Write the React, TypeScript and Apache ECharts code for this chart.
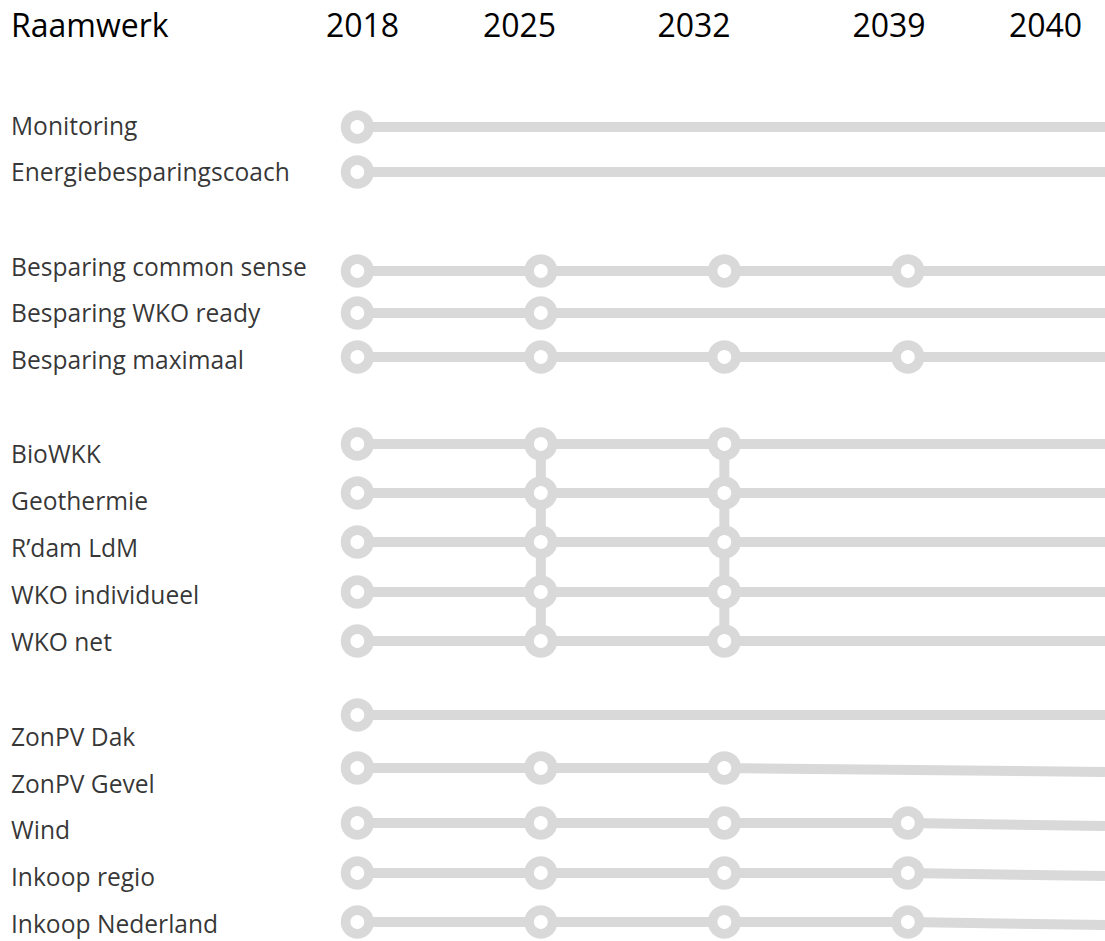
import React, { useEffect, useRef } from "react";
import * as echarts from "echarts";

// ---- data ----
const rowLabels = [
  "Monitoring",
  "Energiebesparingscoach",
  "Besparing common sense",
  "Besparing WKO ready",
  "Besparing maximaal",
  "BioWKK",
  "Geothermie",
  "R\u2019dam LdM",
  "WKO individueel",
  "WKO net",
  "ZonPV Dak",
  "ZonPV Gevel",
  "Wind",
  "Inkoop regio",
  "Inkoop Nederland",
];

// milestone years per row
const rowMilestones: number[][] = [
  [2018],
  [2018],
  [2018, 2025, 2032, 2039],
  [2018, 2025],
  [2018, 2025, 2032, 2039],
  [2018, 2025, 2032],
  [2018, 2025, 2032],
  [2018, 2025, 2032],
  [2018, 2025, 2032],
  [2018, 2025, 2032],
  [2018],
  [2018, 2025, 2032],
  [2018, 2025, 2032, 2039],
  [2018, 2025, 2032, 2039],
  [2018, 2025, 2032, 2039],
];

// vertical position of each row's line (start / far end) and of its label
const rowLineY = [127, 172, 271, 313, 357, 444, 493, 542, 592, 641, 715, 768, 823, 873, 922];
const rowLineEndY = [127, 172, 271, 313, 357, 444, 493, 542, 592, 641, 715, 772, 826, 876, 925];
const rowLabelY = [125, 171.5, 266, 312.5, 359.5, 453.5, 500.5, 547, 594, 641.5, 736, 783, 829, 876, 923];

// connectors between rows (BioWKK .. WKO net) at these years
const connectorYears = [2025, 2032];
const connectorFromRow = 5;
const connectorToRow = 9;

// header texts
const headerTitle = "Raamwerk";
const headerYears = ["2018", "2025", "2032", "2039", "2040"];

// ---- layout ----
const W = 1105;
const H = 941;
const X_MIN = 2004.37;
const X_MAX = 2046.52;
const headerX = [362.5, 519.5, 694, 889, 1045.5];
const headerY = 24;
const GRAY = "#d9d9d9";
const FONT = "'Open Sans', 'Noto Sans', sans-serif";

export default function App() {
  const ref = useRef<HTMLDivElement>(null);

  useEffect(() => {
    if (!ref.current) return;
    const chart = echarts.init(ref.current, undefined, { renderer: "svg" });

    const connectorSeries = connectorYears.map((yr) => ({
      type: "line",
      silent: true,
      showSymbol: false,
      symbol: "none",
      z: 2,
      lineStyle: { color: GRAY, width: 10, cap: "butt" },
      data: [
        [yr, rowLineY[connectorFromRow]],
        [yr, rowLineY[connectorToRow]],
      ],
    }));

    const rowSeries = rowLabels.map((name, i) => ({
      type: "line",
      name,
      silent: true,
      z: 3,
      symbol: "circle",
      symbolSize: 23.5,
      showSymbol: true,
      itemStyle: { color: "#ffffff", borderColor: GRAY, borderWidth: 9.7, opacity: 1 },
      lineStyle: { color: GRAY, width: 10, cap: "butt" },
      data: [
        ...rowMilestones[i].map((yr) => [yr, rowLineY[i]]),
        { value: [X_MAX, rowLineEndY[i]], symbol: "none" },
      ],
    }));

    const labelSeries = {
      type: "scatter",
      silent: true,
      symbolSize: 0,
      z: 5,
      data: rowLabels.map((name, i) => ({ value: [X_MIN, rowLabelY[i]], name })),
      label: {
        show: true,
        position: "right",
        distance: 11,
        formatter: (p: any) => p.name,
        color: "#000000",
        fontFamily: FONT,
        fontSize: 24.6,
        verticalAlign: "middle",
      },
    };

    chart.setOption({
      animation: false,
      backgroundColor: "#ffffff",
      grid: { left: 0, right: 0, top: 0, bottom: 0 },
      xAxis: { type: "value", min: X_MIN, max: X_MAX, show: false },
      yAxis: { type: "value", min: 0, max: H, inverse: true, show: false },
      tooltip: { show: false },
      series: [...connectorSeries, ...rowSeries, labelSeries],
      graphic: [
        {
          type: "text",
          x: 11,
          y: headerY,
          style: {
            text: headerTitle,
            fill: "#000000",
            font: `32px ${FONT}`,
            align: "left",
            verticalAlign: "middle",
          },
        },
        ...headerYears.map((t, i) => ({
          type: "text",
          x: headerX[i],
          y: headerY,
          style: {
            text: t,
            fill: "#000000",
            font: `32px ${FONT}`,
            align: "center",
            verticalAlign: "middle",
          },
        })),
      ],
    });

    return () => chart.dispose();
  }, []);

  return (
    <div
      ref={ref}
      style={{ position: "absolute", left: 0, top: 0, width: W, height: H }}
    />
  );
}
